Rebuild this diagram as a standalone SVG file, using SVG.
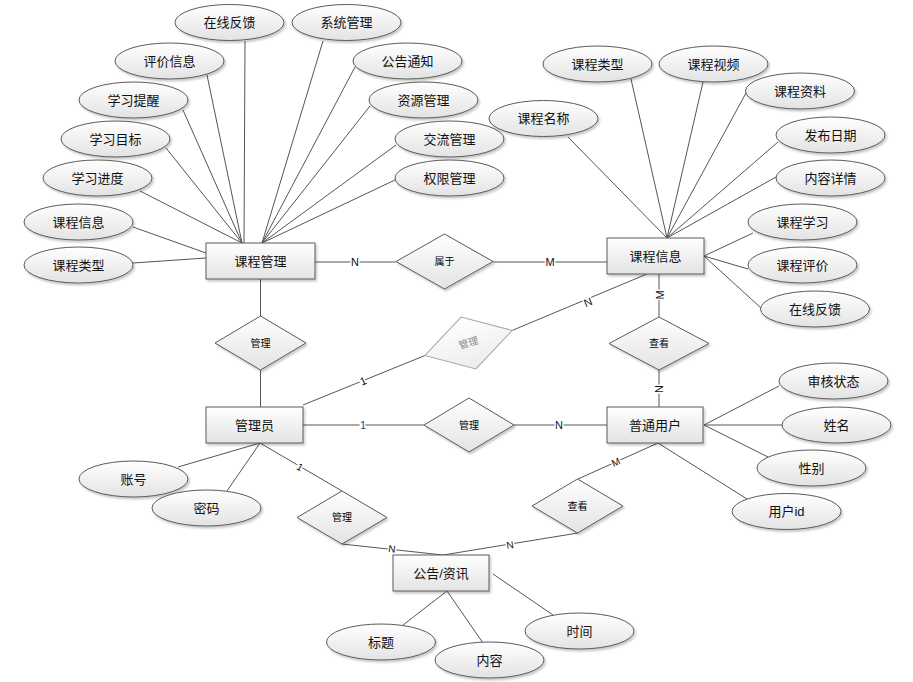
<svg xmlns="http://www.w3.org/2000/svg" width="913" height="682" viewBox="0 0 913 682">
<defs>
<linearGradient id="g" x1="0" y1="0" x2="0" y2="1"><stop offset="0" stop-color="#ffffff"/><stop offset="1" stop-color="#e3e3e3"/></linearGradient>
<linearGradient id="g2" x1="0" y1="0" x2="0" y2="1"><stop offset="0" stop-color="#ffffff"/><stop offset="1" stop-color="#ececec"/></linearGradient>
<filter id="sh" x="-10%" y="-10%" width="125%" height="135%"><feDropShadow dx="1.5" dy="2" stdDeviation="1.2" flood-color="#000" flood-opacity="0.22"/></filter>
</defs>
<style>
.e,.r,.d{fill:url(#g);stroke:#5a5a5a;stroke-width:1;filter:url(#sh)}
.gd{fill:url(#g2);stroke:#a8a8a8;stroke-width:1}
.t{font-family:"Liberation Sans","Noto Sans CJK SC",sans-serif;font-size:13px;fill:#111;text-anchor:middle;dominant-baseline:central}
.s{font-family:"Liberation Sans","Noto Sans CJK SC",sans-serif;font-size:10px;fill:#000;text-anchor:middle;dominant-baseline:central}
.l{font-family:"Liberation Sans","Noto Sans CJK SC",sans-serif;font-size:11px;fill:#111;text-anchor:middle;dominant-baseline:central;stroke:#fff;stroke-width:3;paint-order:stroke}
#connectors line{stroke:#555;stroke-width:1}
</style>
<rect width="913" height="682" fill="#fff"/>
<g id="connectors">
<line x1="245" y1="41" x2="244" y2="243"/>
<line x1="207" y1="75" x2="242" y2="243"/>
<line x1="183" y1="110" x2="242" y2="243"/>
<line x1="166" y1="148" x2="242" y2="243"/>
<line x1="140" y1="191" x2="242" y2="243"/>
<line x1="133" y1="227" x2="206" y2="253"/>
<line x1="133" y1="263" x2="206" y2="258"/>
<line x1="323" y1="41" x2="262" y2="243"/>
<line x1="355" y1="67" x2="262" y2="243"/>
<line x1="370" y1="106" x2="262" y2="243"/>
<line x1="396" y1="145" x2="262" y2="243"/>
<line x1="395" y1="180" x2="262" y2="243"/>
<line x1="568" y1="137" x2="667" y2="238"/>
<line x1="631" y1="79" x2="667" y2="238"/>
<line x1="703" y1="82" x2="667" y2="238"/>
<line x1="746" y1="93" x2="667" y2="238"/>
<line x1="778" y1="142" x2="667" y2="238"/>
<line x1="776" y1="177" x2="667" y2="238"/>
<line x1="704" y1="256" x2="753" y2="233"/>
<line x1="704" y1="256" x2="748" y2="269"/>
<line x1="704" y1="256" x2="761" y2="308"/>
<line x1="315" y1="262" x2="396" y2="262"/>
<line x1="493" y1="262" x2="607" y2="262"/>
<line x1="260.5" y1="279" x2="260.5" y2="316"/>
<line x1="260.5" y1="370" x2="260.5" y2="407"/>
<line x1="303" y1="405" x2="425" y2="355.5"/>
<line x1="512" y1="330.5" x2="647" y2="274"/>
<line x1="659" y1="274" x2="659" y2="317"/>
<line x1="659" y1="370" x2="659" y2="407"/>
<line x1="303" y1="425" x2="424" y2="425"/>
<line x1="514" y1="425" x2="607" y2="425"/>
<line x1="658" y1="443" x2="578" y2="479"/>
<line x1="578" y1="533" x2="443" y2="555"/>
<line x1="342" y1="544" x2="443" y2="555"/>
<line x1="260" y1="443" x2="342" y2="491"/>
<line x1="260" y1="443" x2="178" y2="467"/>
<line x1="260" y1="443" x2="227" y2="491"/>
<line x1="447" y1="591" x2="403" y2="625"/>
<line x1="447" y1="591" x2="483" y2="643"/>
<line x1="493" y1="574" x2="553" y2="615"/>
<line x1="704" y1="425" x2="779" y2="386"/>
<line x1="704" y1="425" x2="782" y2="425"/>
<line x1="704" y1="425" x2="768" y2="457"/>
<line x1="658" y1="443" x2="747" y2="499"/>
<text class="l" x="355" y="262">N</text>
<text class="l" x="550" y="262">M</text>
<text class="l" transform="translate(363,381) rotate(-22)">1</text>
<text class="l" transform="translate(588,302) rotate(-22)">N</text>
<text class="l" transform="translate(660,295) rotate(-90)">M</text>
<text class="l" transform="translate(659,389) rotate(-90)">N</text>
<text class="l" x="363" y="425" style="fill:#1f4e9a">1</text>
<text class="l" x="559" y="425" style="fill:#0d1a4a">N</text>
<text class="l" transform="translate(616,462) rotate(-24)" style="font-size:10px">M</text>
<text class="l" transform="translate(510,545) rotate(-9)" style="font-size:10px">N</text>
<text class="l" transform="translate(392,549) rotate(6)" style="font-size:10px">N</text>
<text class="l" transform="translate(300,467) rotate(30)" style="font-size:10px">1</text>
</g>
<g id="kcgl"><rect class="r" x="206" y="243" width="109" height="36"/><text class="t" x="260.5" y="261">课程管理</text></g>
<g id="gly"><rect class="r" x="206" y="407" width="97" height="36"/><text class="t" x="254.5" y="425">管理员</text></g>
<g id="kcxx"><rect class="r" x="607" y="238" width="97" height="36"/><text class="t" x="655.5" y="256">课程信息</text></g>
<g id="ptyh"><rect class="r" x="607" y="407" width="96" height="36"/><text class="t" x="655" y="425">普通用户</text></g>
<g id="gg"><rect class="r" x="393" y="555" width="96" height="36"/><text class="t" x="441" y="573">公告/资讯</text></g>
<g id="d-sy"><polygon class="d" points="396,261.5 444.5,234 493,261.5 444.5,289"/><text class="s" x="444.5" y="261.5">属于</text></g>
<g id="d-gl1"><polygon class="d" points="215,343 260.5,316 306,343 260.5,370"/><text class="s" x="260.5" y="343">管理</text></g>
<g id="d-gl2" transform="translate(468.5,343) rotate(-16)"><polygon class="gd" points="-45.5,0 0,-27 45.5,0 0,27"/><text class="s" x="0" y="0" style="fill:#8a8a8a">管理</text></g>
<g id="d-gl3"><polygon class="d" points="424,425 469,398 514,425 469,452"/><text class="s" x="469" y="425">管理</text></g>
<g id="d-ck1"><polygon class="d" points="609,343.5 659,317 709,343.5 659,370"/><text class="s" x="659" y="343.5">查看</text></g>
<g id="d-gl4"><polygon class="d" points="297,517.5 342,491 387,517.5 342,544"/><text class="s" x="342" y="517.5">管理</text></g>
<g id="d-ck2"><polygon class="d" points="532,506 577.5,479 623,506 577.5,533"/><text class="s" x="577.5" y="506">查看</text></g>
<g id="a1"><ellipse class="e" cx="229.5" cy="22.5" rx="54.5" ry="18"/><text class="t" x="229.5" y="22.5">在线反馈</text></g>
<g id="a2"><ellipse class="e" cx="169.5" cy="61" rx="54.5" ry="18"/><text class="t" x="169.5" y="61">评价信息</text></g>
<g id="a3"><ellipse class="e" cx="133.5" cy="100" rx="54.5" ry="18"/><text class="t" x="133.5" y="100">学习提醒</text></g>
<g id="a4"><ellipse class="e" cx="115.5" cy="139" rx="54.5" ry="18"/><text class="t" x="115.5" y="139">学习目标</text></g>
<g id="a5"><ellipse class="e" cx="97.5" cy="178" rx="54.5" ry="18"/><text class="t" x="97.5" y="178">学习进度</text></g>
<g id="a6"><ellipse class="e" cx="78.5" cy="222" rx="54.5" ry="18"/><text class="t" x="78.5" y="222">课程信息</text></g>
<g id="a7"><ellipse class="e" cx="78.5" cy="265" rx="54.5" ry="18"/><text class="t" x="78.5" y="265">课程类型</text></g>
<g id="a8"><ellipse class="e" cx="346.5" cy="22.5" rx="54.5" ry="18"/><text class="t" x="346.5" y="22.5">系统管理</text></g>
<g id="a9"><ellipse class="e" cx="407.5" cy="61" rx="54.5" ry="18"/><text class="t" x="407.5" y="61">公告通知</text></g>
<g id="a10"><ellipse class="e" cx="423.5" cy="100" rx="54.5" ry="18"/><text class="t" x="423.5" y="100">资源管理</text></g>
<g id="a11"><ellipse class="e" cx="449.5" cy="139" rx="54.5" ry="18"/><text class="t" x="449.5" y="139">交流管理</text></g>
<g id="a12"><ellipse class="e" cx="449.5" cy="178" rx="54.5" ry="18"/><text class="t" x="449.5" y="178">权限管理</text></g>
<g id="a13"><ellipse class="e" cx="543.5" cy="118.5" rx="54.5" ry="18"/><text class="t" x="543.5" y="118.5">课程名称</text></g>
<g id="a14"><ellipse class="e" cx="597.5" cy="64" rx="54.5" ry="18"/><text class="t" x="597.5" y="64">课程类型</text></g>
<g id="a15"><ellipse class="e" cx="713.5" cy="64" rx="54.5" ry="18"/><text class="t" x="713.5" y="64">课程视频</text></g>
<g id="a16"><ellipse class="e" cx="800" cy="91" rx="54.5" ry="18"/><text class="t" x="800" y="91">课程资料</text></g>
<g id="a17"><ellipse class="e" cx="830.5" cy="135" rx="54.5" ry="18"/><text class="t" x="830.5" y="135">发布日期</text></g>
<g id="a18"><ellipse class="e" cx="830.5" cy="178" rx="54.5" ry="18"/><text class="t" x="830.5" y="178">内容详情</text></g>
<g id="a19"><ellipse class="e" cx="802.5" cy="222" rx="54.5" ry="18"/><text class="t" x="802.5" y="222">课程学习</text></g>
<g id="a20"><ellipse class="e" cx="802.5" cy="265" rx="54.5" ry="18"/><text class="t" x="802.5" y="265">课程评价</text></g>
<g id="a21"><ellipse class="e" cx="815" cy="309" rx="54.5" ry="18"/><text class="t" x="815" y="309">在线反馈</text></g>
<g id="a22"><ellipse class="e" cx="833.5" cy="381" rx="54.5" ry="18"/><text class="t" x="833.5" y="381">审核状态</text></g>
<g id="a23"><ellipse class="e" cx="836.5" cy="425" rx="54.5" ry="18"/><text class="t" x="836.5" y="425">姓名</text></g>
<g id="a24"><ellipse class="e" cx="811.5" cy="468" rx="54.5" ry="18"/><text class="t" x="811.5" y="468">性别</text></g>
<g id="a25"><ellipse class="e" cx="786.5" cy="511.5" rx="54.5" ry="18"/><text class="t" x="786.5" y="511.5">用户id</text></g>
<g id="a26"><ellipse class="e" cx="133.5" cy="479" rx="54.5" ry="18"/><text class="t" x="133.5" y="479">账号</text></g>
<g id="a27"><ellipse class="e" cx="206.5" cy="508" rx="54.5" ry="18"/><text class="t" x="206.5" y="508">密码</text></g>
<g id="a28"><ellipse class="e" cx="381" cy="642" rx="54.5" ry="18"/><text class="t" x="381" y="642">标题</text></g>
<g id="a29"><ellipse class="e" cx="489.5" cy="660" rx="54.5" ry="18"/><text class="t" x="489.5" y="660">内容</text></g>
<g id="a30"><ellipse class="e" cx="579.5" cy="631" rx="54.5" ry="18"/><text class="t" x="579.5" y="631">时间</text></g>
</svg>
